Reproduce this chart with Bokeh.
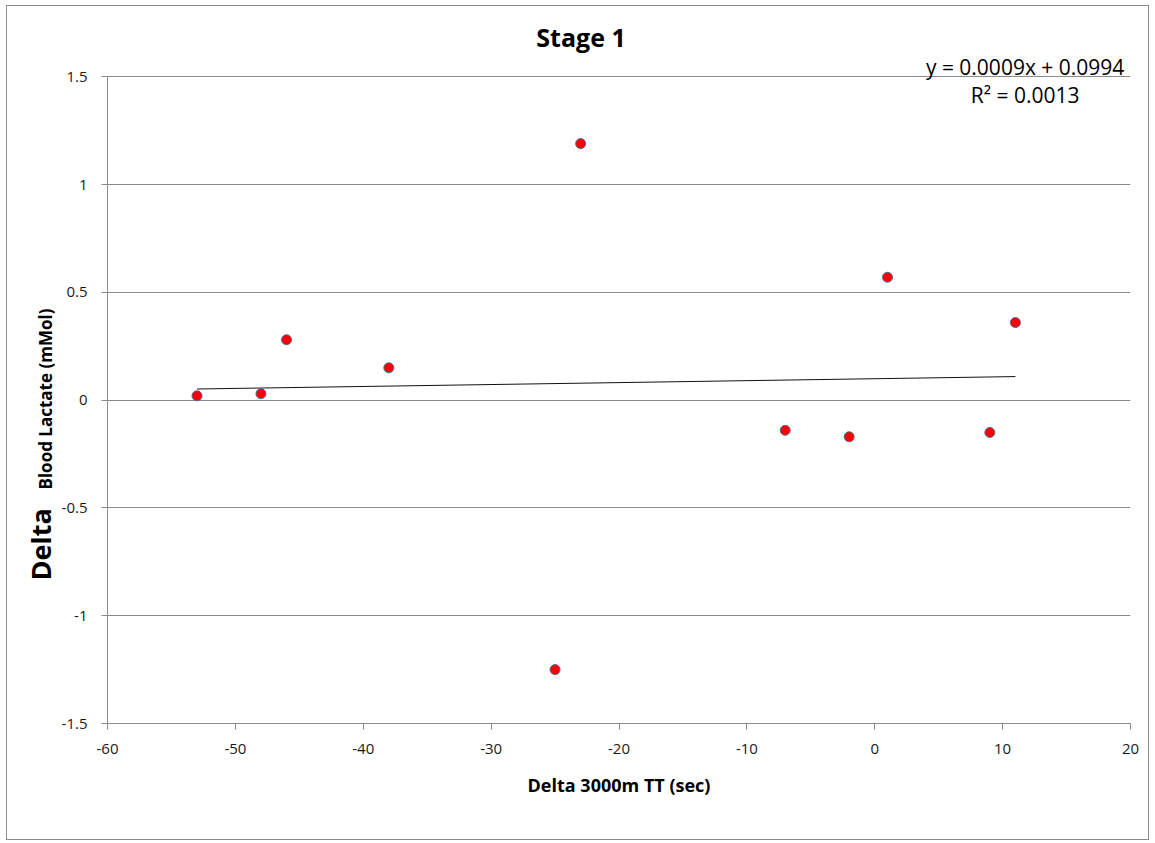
import numpy as np
from bokeh.plotting import figure
from bokeh.models import Label, Range1d, FixedTicker, Title
from bokeh.embed import file_html
from bokeh.resources import INLINE

# ---- data ----
delta_tt = [-53, -48, -46, -38, -25, -23, -7, -2, 1, 9, 11]
delta_lactate = [0.02, 0.03, 0.28, 0.15, -1.25, 1.19, -0.14, -0.17, 0.57, -0.15, 0.36]
trend_slope = 0.0009
trend_intercept = 0.0994
x_ticks = [-60, -50, -40, -30, -20, -10, 0, 10, 20]
y_ticks = [-1.5, -1, -0.5, 0, 0.5, 1, 1.5]
title_text = "Stage 1"
x_label_text = "Delta 3000m TT (sec)"
y_label_big = "Delta"
y_label_small = "Blood Lactate (mMol)"
equation_text = "y = 0.0009x + 0.0994"
r2_text = "R\u00b2 = 0.0013"

FONT = "Open Sans"
GRID = "#8a8a8a"

X_MIN, X_MAX = -60, 20
Y_MIN, Y_MAX = -1.5, 1.5
Y_TOP = 1.8261  # frame extends above the plotted range to hold the title texts

p = figure(width=1143, height=835, output_backend="svg", toolbar_location=None,
           x_range=Range1d(X_MIN, X_MAX), y_range=Range1d(Y_MIN, Y_TOP),
           min_border_left=100, min_border_right=20, min_border_top=0, min_border_bottom=118)
p.styles = {"border": "1px solid #8c8c8c", "margin-left": "6px", "margin-top": "5px"}
p.outline_line_color = None
p.background_fill_color = "white"
p.border_fill_color = "white"

# axes
for ax in (p.xaxis[0], p.yaxis[0]):
    ax.axis_line_color = GRID
    ax.major_tick_line_color = GRID
    ax.major_tick_out = 6
    ax.major_tick_in = 0
    ax.minor_tick_line_color = None
    ax.major_label_text_font = FONT
    ax.major_label_text_font_size = "15px"
    ax.major_label_text_color = "#1a1a1a"

p.xaxis[0].major_label_standoff = 14
p.yaxis[0].major_label_standoff = 14
p.yaxis[0].bounds = (Y_MIN, Y_MAX)
p.xaxis[0].ticker = FixedTicker(ticks=x_ticks)
p.yaxis[0].ticker = FixedTicker(ticks=y_ticks)
p.xaxis[0].major_label_overrides = {t: f"{t:g}" for t in x_ticks}
p.yaxis[0].major_label_overrides = {float(t): f"{t:g}" for t in y_ticks}

p.xaxis[0].axis_label = x_label_text
p.xaxis[0].axis_label_text_font = FONT
p.xaxis[0].axis_label_text_font_size = "18px"
p.xaxis[0].axis_label_text_font_style = "bold"
p.xaxis[0].axis_label_text_color = "#000000"
p.xaxis[0].axis_label_standoff = 16

p.xgrid.visible = False
p.ygrid[0].ticker = FixedTicker(ticks=y_ticks)
p.ygrid.grid_line_color = GRID
p.ygrid.grid_line_width = 1

# y-axis titles on the left
p.add_layout(Title(text=y_label_small, align="left", offset=234, standoff=3,
                   text_font=FONT, text_font_size="17px", text_font_style="bold",
                   text_color="#000000"), "left")
p.add_layout(Title(text=y_label_big, align="left", offset=143, standoff=-57,
                   text_font=FONT, text_font_size="27px", text_font_style="bold",
                   text_color="#000000"), "left")

# trend line
tx = [min(delta_tt), max(delta_tt)]
ty = [trend_slope * v + trend_intercept for v in tx]
p.line(tx, ty, line_color="#111111", line_width=1)

# points
p.scatter(delta_tt, delta_lactate, size=10, fill_color="#ff0000",
          line_color="#4f6aa5", line_width=1)

# texts inside the (extended) frame
def add_label(x, y, text, size, bold=False, align="center"):
    p.add_layout(Label(x=x, y=y, text=text, text_font=FONT, text_font_size=size,
                       text_font_style="bold" if bold else "normal", text_color="#000000",
                       text_align=align, text_baseline="alphabetic"))

add_label(-22.97, 1.685, title_text, "25px", bold=True)
add_label(11.76, 1.546, equation_text, "21px")
add_label(11.76, 1.415, r2_text, "21px")

open("out.html", "w").write(file_html(p, INLINE))
